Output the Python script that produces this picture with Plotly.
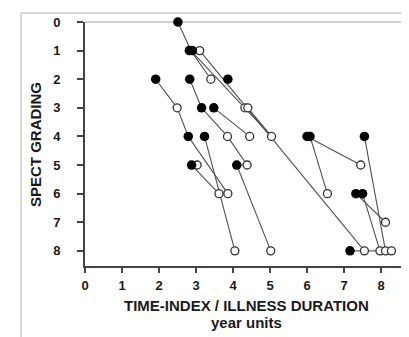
import plotly.graph_objects as go

# ---- data ----
filled_x = [2.51, 2.82, 2.90, 1.91, 2.83, 3.86, 3.15, 3.48, 2.79, 3.23, 2.88, 4.10, 6.00, 6.08, 7.55, 7.32, 7.50, 7.16]
filled_y = [0, 1, 1, 2, 2, 2, 3, 3, 4, 4, 5, 5, 4, 4, 4, 6, 6, 8]

open_x = [3.10, 3.40, 2.49, 4.32, 4.40, 3.85, 4.45, 5.04, 3.03, 4.38, 7.45, 3.62, 3.86, 6.55, 8.12, 4.05, 5.02, 7.55, 7.97, 8.12, 8.28]
open_y = [1, 2, 3, 3, 3, 4, 4, 4, 5, 5, 5, 6, 6, 6, 7, 8, 8, 8, 8, 8, 8]

seg_x0 = [2.51, 2.86, 2.86, 3.10, 1.91, 2.49, 2.83, 3.15, 3.48, 4.40, 2.79, 3.23, 2.88, 2.88, 3.85, 4.10, 4.10, 6.00, 6.08, 7.55, 7.32, 7.50, 7.16]
seg_y0 = [0, 1, 1, 1, 2, 3, 2, 3, 3, 3, 4, 4, 5, 5, 4, 5, 5, 4, 4, 4, 6, 6, 8]
seg_x1 = [2.86, 3.40, 5.04, 7.55, 2.49, 2.79, 3.15, 3.85, 4.45, 5.04, 3.86, 4.05, 3.03, 3.62, 4.38, 4.38, 5.02, 7.45, 6.55, 8.12, 8.12, 7.97, 7.97]
seg_y1 = [1, 2, 4, 8, 3, 4, 3, 4, 4, 4, 6, 8, 5, 6, 5, 5, 8, 5, 6, 8, 7, 8, 8]

x_ticks = [0, 1, 2, 3, 4, 5, 6, 7, 8]
y_ticks = [0, 1, 2, 3, 4, 5, 6, 7, 8]

x_title = "TIME-INDEX / ILLNESS DURATION"
x_subtitle = "year units"
y_title = "SPECT GRADING"

# ---- figure ----
lx, ly = [], []
for a, b, c, d in zip(seg_x0, seg_y0, seg_x1, seg_y1):
    lx += [a, c, None]
    ly += [b, d, None]

fig = go.Figure()
fig.add_trace(go.Scatter(x=lx, y=ly, mode="lines",
                         line=dict(color="#505050", width=1.1),
                         hoverinfo="skip", cliponaxis=False, showlegend=False))
fig.add_trace(go.Scatter(x=open_x, y=open_y, mode="markers",
                         marker=dict(size=8, color="white", line=dict(color="#333", width=1.3)),
                         cliponaxis=False, showlegend=False))
fig.add_trace(go.Scatter(x=filled_x, y=filled_y, mode="markers",
                         marker=dict(size=9.5, color="black", line=dict(color="black", width=0)),
                         cliponaxis=False, showlegend=False))

font_b = dict(family="Liberation Sans, Arial, sans-serif", size=13, color="#1a1a1a", weight="bold")
title_font = dict(family="Liberation Sans, Arial, sans-serif", size=15, color="#1a1a1a", weight="bold")

fig.update_layout(
    width=409, height=337,
    margin=dict(l=77, r=3, t=14, b=79),
    paper_bgcolor="white", plot_bgcolor="white",
    xaxis=dict(range=[0, 8.89], tickvals=x_ticks, ticktext=[str(v) for v in x_ticks],
               showgrid=False, zeroline=False, showline=True, linecolor="#444", linewidth=2,
               ticks="outside", ticklen=5, tickwidth=1.5, tickcolor="#444",
               ticklabelstandoff=1,
               tickfont=font_b, fixedrange=True),
    yaxis=dict(range=[8.53, 0], tickvals=y_ticks, ticktext=[str(v) for v in y_ticks],
               showgrid=False, zeroline=False, showline=True, linecolor="#444", linewidth=2,
               ticks="outside", ticklen=6, tickwidth=1.5, tickcolor="#444",
               ticklabelstandoff=14,
               tickfont=font_b, fixedrange=True),
    shapes=[
        # plot frame (light)
        dict(type="line", xref="paper", yref="paper", x0=0, x1=1, y0=1, y1=1,
             line=dict(color="#cfcfcf", width=2), layer="below"),
        dict(type="line", xref="paper", yref="paper", x0=1, x1=1, y0=0, y1=1,
             line=dict(color="#e0e0e0", width=1.5), layer="below"),
        # outer frame
        dict(type="line", xref="paper", yref="paper", x0=-0.1945, x1=1.02, y0=1.0369, y1=1.0369,
             line=dict(color="#d8d8d8", width=2), layer="below"),
        dict(type="line", xref="paper", yref="paper", x0=-0.1945, x1=-0.1945, y0=-0.35, y1=1.0369,
             line=dict(color="#d8d8d8", width=2), layer="below"),
    ],
    annotations=[
        dict(text=x_title, xref="paper", yref="paper", x=0.49, y=-0.162,
             xanchor="center", yanchor="middle", showarrow=False, font=title_font),
        dict(text=x_subtitle, xref="paper", yref="paper", x=0.49, y=-0.230,
             xanchor="center", yanchor="middle", showarrow=False, font=title_font),
        dict(text=y_title, xref="paper", yref="paper", x=-0.152, y=0.5,
             xanchor="center", yanchor="middle", textangle=-90, showarrow=False, font=title_font),
        dict(text="9", xref="paper", yref="paper", x=(408.5 - 77) / 329, y=-0.1025,
             xanchor="center", yanchor="middle", showarrow=False, font=font_b),
    ],
)

fig.write_html("out.html")
